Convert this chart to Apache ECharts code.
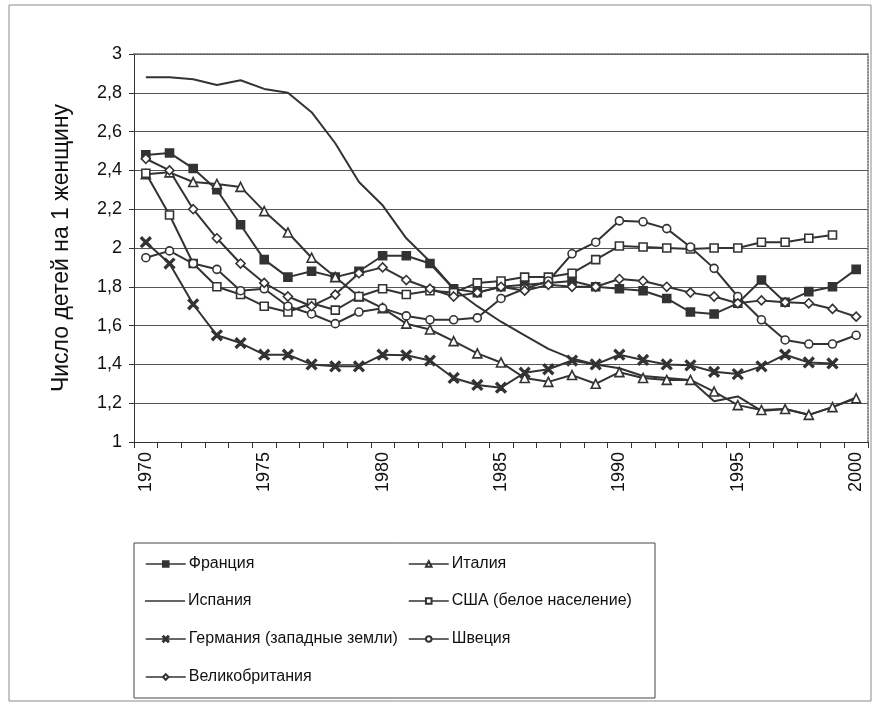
<!DOCTYPE html>
<html><head><meta charset="utf-8">
<script src="https://cdn.jsdelivr.net/npm/echarts@6/dist/echarts.min.js"></script>
<style>html,body{margin:0;padding:0;background:#fff}#c{width:876px;height:704px}</style>
</head><body><div id="c"></div>
<script>
const years = ['1970','1971','1972','1973','1974','1975','1976','1977','1978','1979',
  '1980','1981','1982','1983','1984','1985','1986','1987','1988','1989',
  '1990','1991','1992','1993','1994','1995','1996','1997','1998','1999','2000'];

const france = [2.48,2.49,2.41,2.30,2.12,1.94,1.85,1.88,1.85,1.88,
  1.96,1.96,1.92,1.79,1.77,1.80,1.81,1.82,1.83,1.80,
  1.79,1.78,1.74,1.67,1.66,1.715,1.835,1.72,1.775,1.80,1.89];
const italy = [2.38,2.39,2.34,2.33,2.315,2.19,2.08,1.95,1.85,1.75,
  1.69,1.61,1.58,1.52,1.457,1.41,1.33,1.31,1.345,1.30,
  1.36,1.33,1.32,1.32,1.26,1.19,1.165,1.17,1.14,1.18,1.225];
const spain = [2.88,2.88,2.87,2.84,2.865,2.82,2.80,2.70,2.54,2.34,
  2.22,2.05,1.93,1.79,1.70,1.62,1.55,1.48,1.43,1.40,
  1.38,1.34,1.33,1.32,1.21,1.235,1.16,1.17,1.14,1.18,1.23];
const usaWhite = [2.385,2.17,1.92,1.80,1.76,1.70,1.67,1.715,1.68,1.75,
  1.79,1.76,1.78,1.77,1.82,1.83,1.85,1.85,1.87,1.94,
  2.01,2.005,2.00,1.995,2.00,2.00,2.03,2.03,2.05,2.067,null];
const germanyWest = [2.03,1.92,1.71,1.55,1.51,1.45,1.45,1.40,1.39,1.39,
  1.45,1.447,1.42,1.33,1.294,1.28,1.357,1.375,1.42,1.40,
  1.45,1.423,1.40,1.395,1.362,1.35,1.39,1.45,1.41,1.405,null];
const sweden = [1.95,1.985,1.92,1.89,1.78,1.79,1.70,1.66,1.61,1.67,
  1.69,1.65,1.63,1.63,1.64,1.74,1.79,1.83,1.97,2.03,
  2.14,2.135,2.10,2.005,1.895,1.75,1.63,1.526,1.505,1.505,1.55];
const uk = [2.46,2.40,2.20,2.05,1.92,1.82,1.75,1.70,1.76,1.87,
  1.90,1.835,1.79,1.75,1.77,1.80,1.78,1.81,1.80,1.80,
  1.84,1.83,1.80,1.77,1.75,1.715,1.73,1.72,1.715,1.686,1.646];

const names = ['Франция','Италия','Испания','США (белое население)',
  'Германия (западные земли)','Швеция','Великобритания'];

const C = '#333333';
const FONT = "'Liberation Sans', Arial, sans-serif";
const X_SYM = 'path://M0,1.2L1.2,0L5,3.8L8.8,0L10,1.2L6.2,5L10,8.8L8.8,10L5,6.2L1.2,10L0,8.8L3.8,5Z';

function mk(name, data, symbol, size, filled) {
  return {
    name: name, type: 'line', data: data, xAxisIndex: 0, yAxisIndex: 0,
    symbol: symbol, symbolSize: size, showSymbol: symbol !== 'none',
    connectNulls: false,
    lineStyle: { color: C, width: 2 },
    itemStyle: { color: filled ? C : '#fff', borderColor: C, borderWidth: 1.6 },
    emphasis: { disabled: true },
    z: 3
  };
}

const series = [
  mk(names[0], france, 'rect', 8, true),
  mk(names[1], italy, 'triangle', 9, false),
  mk(names[2], spain, 'none', 0, false),
  mk(names[3], usaWhite, 'rect', 8, false),
  mk(names[4], germanyWest, X_SYM, 10, true),
  mk(names[5], sweden, 'circle', 8, false),
  mk(names[6], uk, 'diamond', 9, false)
];

const legendPos = [
  [145, 556], [408, 556],
  [145, 593], [408, 593],
  [145, 631], [408, 631],
  [145, 669]
];
const legends = names.map((n, i) => {
  const item = (i === 2)
    ? { name: n, icon: 'path://M0,0L40,0L40,1.6L0,1.6Z', itemStyle: { color: C, borderWidth: 0 } }
    : { name: n };
  return {
    data: [item], left: legendPos[i][0], top: legendPos[i][1],
    itemWidth: 40, itemHeight: (i === 2 ? 2 : 7), itemGap: 0, padding: 0,
    selectedMode: false,
    lineStyle: { width: 1.5 },
    textStyle: { color: '#111', fontSize: 16, fontFamily: FONT, padding: [0,0,0,-2] }
  };
});

const chart = echarts.init(document.getElementById('c'), null, { renderer: 'canvas' });
chart.setOption({
  animation: false,
  backgroundColor: '#fff',
  textStyle: { fontFamily: FONT },
  grid: { left: 134, right: 8, top: 54, bottom: 262, containLabel: false },
  legend: legends,
  graphic: [
    { type: 'rect', shape: { x: 9, y: 5, width: 862, height: 696 },
      style: { fill: 'none', stroke: '#8a8a8a', lineWidth: 1 }, silent: true },
    { type: 'rect', shape: { x: 134, y: 543, width: 521, height: 155 },
      style: { fill: 'none', stroke: '#444', lineWidth: 1 }, silent: true }
  ],
  xAxis: [{
    type: 'category', data: years, boundaryGap: true, position: 'bottom',
    axisLine: { lineStyle: { color: '#333', width: 1 } },
    axisTick: { show: true, length: 6, interval: 0, lineStyle: { color: '#333' } },
    axisLabel: { interval: 4, rotate: 90, margin: 10, color: '#111', fontSize: 18, fontFamily: FONT },
    splitLine: { show: false }
  }, {
    type: 'category', data: years, boundaryGap: true, position: 'top',
    axisLine: { lineStyle: { color: '#666', width: 1.5, type: 'dotted' } },
    axisTick: { show: false }, axisLabel: { show: false }, splitLine: { show: false }
  }],
  yAxis: [{
    type: 'value', min: 1, max: 3, interval: 0.2, position: 'left',
    name: 'Число детей на 1 женщину', nameLocation: 'middle', nameGap: 61,
    nameTextStyle: { color: '#111', fontSize: 23, fontFamily: FONT },
    axisLine: { show: true, lineStyle: { color: '#333', width: 1 } },
    axisTick: { show: true, length: 5, lineStyle: { color: '#333' } },
    axisLabel: { margin: 12, color: '#111', fontSize: 18, fontFamily: FONT,
      formatter: v => String(Math.round(v * 10) / 10).replace('.', ',') },
    splitLine: { show: true, lineStyle: { color: '#555', width: 1 } }
  }, {
    type: 'value', min: 1, max: 3, interval: 0.2, position: 'right',
    axisLine: { show: true, lineStyle: { color: '#666', width: 1.5, type: 'dotted' } },
    axisTick: { show: false }, axisLabel: { show: false }, splitLine: { show: false }
  }],
  series: series
});
</script>
</body></html>
